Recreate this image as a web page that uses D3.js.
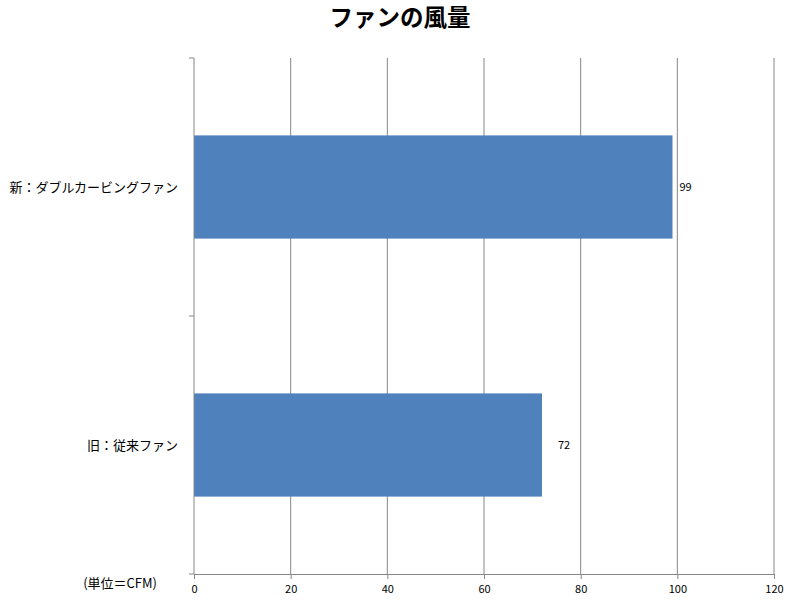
<!DOCTYPE html>
<html><head><meta charset="utf-8">
<script src="https://cdn.jsdelivr.net/npm/d3@7"></script>
<style>body{margin:0;background:#fff;} svg{display:block;}</style>
</head><body>
<svg id="c" width="800" height="600"></svg>
<script>
const title = "ファンの風量";
const categories = ["新：ダブルカービングファン", "旧：従来ファン"];
const values = [99, 72];
const xTicks = [0, 20, 40, 60, 80, 100, 120];
const unitLabel = "(単位＝CFM)";

const font = "'Noto Sans CJK JP', 'Noto Sans', sans-serif";
const svg = d3.select("#c");
const m = {left: 194, right: 26, top: 58, bottom: 26};
const W = 800, H = 600;
const x = d3.scaleLinear().domain([0, 120]).range([m.left, W - m.right]);
const y = d3.scaleBand().domain(categories).range([m.top, H - m.bottom]).paddingInner(0.6).paddingOuter(0.3);

svg.append("text").attr("x", 400).attr("y", 26).attr("text-anchor", "middle")
  .attr("font-family", font).attr("font-weight", "bold").attr("font-size", 23.5).attr("fill", "#000").text(title);

// gridlines
svg.append("g").selectAll("line").data(xTicks.slice(1)).join("line")
  .attr("x1", d => x(d)).attr("x2", d => x(d)).attr("y1", m.top).attr("y2", H - m.bottom)
  .attr("stroke", "#878787").attr("stroke-width", 1);

// bars
svg.append("g").selectAll("rect").data(categories).join("rect")
  .attr("x", x(0)).attr("y", d => y(d)).attr("width", (d, i) => x(values[i]) - x(0))
  .attr("height", y.bandwidth()).attr("fill", "#4f81bd");

// x axis
const xAxis = d3.axisBottom(x).tickValues(xTicks).tickSize(5).tickSizeOuter(0).tickPadding(6);
const gx = svg.append("g").attr("transform", `translate(0,${H - m.bottom})`).call(xAxis);
gx.select(".domain").attr("stroke", "#878787");
gx.selectAll(".tick line").attr("stroke", "#878787");
gx.selectAll(".tick text").attr("font-family", font).attr("font-size", 11).attr("fill", "#000");

// y axis
const yStep = y.step();
const gy = svg.append("g").attr("transform", `translate(${m.left},0)`);
gy.append("line").attr("x1", 0).attr("x2", 0).attr("y1", m.top).attr("y2", H - m.bottom).attr("stroke", "#878787");
const yTickPos = d3.range(categories.length + 1).map(i => m.top + i * yStep);
gy.selectAll("line.t").data(yTickPos).join("line").attr("class", "t")
  .attr("x1", -5).attr("x2", 0).attr("y1", d => d).attr("y2", d => d).attr("stroke", "#878787");
gy.selectAll("text").data(categories).join("text")
  .attr("x", -16).attr("y", d => y(d) + y.bandwidth() / 2).attr("dy", "0.35em")
  .attr("text-anchor", "end").attr("font-family", font).attr("font-size", 13).attr("fill", "#000").text(d => d);

// value labels
const labelOffsets = [7, 16];
svg.append("g").selectAll("text").data(categories).join("text")
  .attr("x", (d, i) => x(values[i]) + labelOffsets[i]).attr("y", d => y(d) + y.bandwidth() / 2).attr("dy", "0.35em")
  .attr("font-family", font).attr("font-size", 11).attr("fill", "#000").text((d, i) => values[i]);

// unit label
svg.append("text").attr("x", 157).attr("y", 583).attr("dy", "0.35em").attr("text-anchor", "end")
  .attr("font-family", font).attr("font-size", 13).attr("fill", "#000").text(unitLabel);
</script>
</body></html>
